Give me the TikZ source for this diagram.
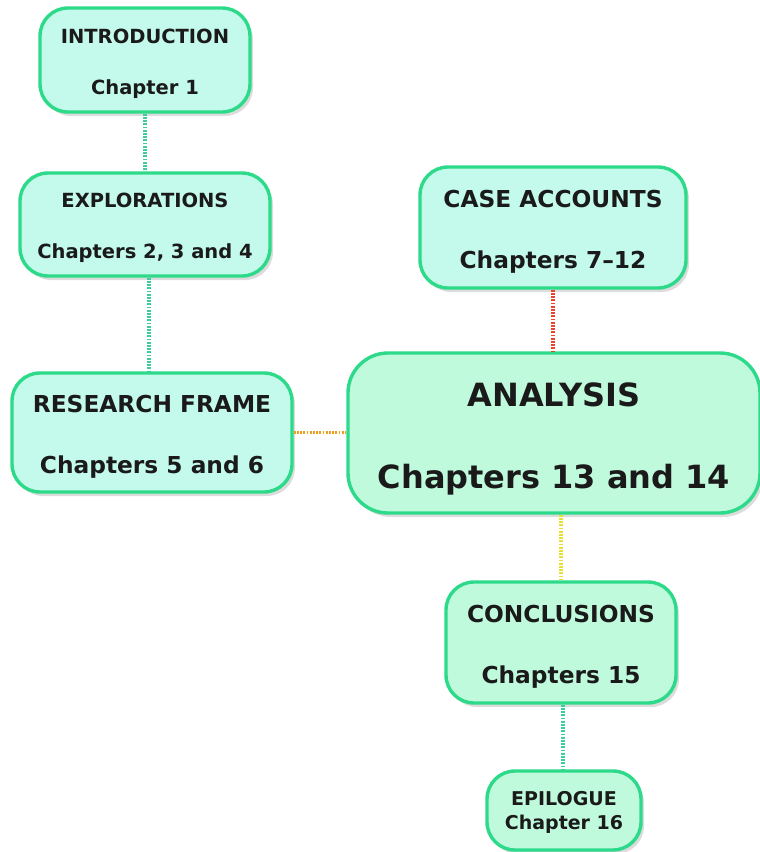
\documentclass[tikz,border=0pt]{standalone}
\usepackage{fontspec}
\setmainfont{DejaVu Sans}
\usetikzlibrary{shadows}
\definecolor{bordergreen}{HTML}{2CDA8A}
\definecolor{fillcyan}{HTML}{C4FAEB}
\definecolor{fillmint}{HTML}{C0FADC}
\definecolor{dotteal}{HTML}{3ECBA0}
\definecolor{dotred}{HTML}{E8432E}
\definecolor{dotorange}{HTML}{F0A020}
\definecolor{dotyellow}{HTML}{E6E030}
\definecolor{inkdark}{HTML}{1A1A1A}
\tikzset{
  chapbox/.style={draw=bordergreen, line width=3.4pt, fill=fillcyan, text=inkdark,
    rounded corners=28pt, align=center, inner sep=0pt,
    drop shadow={opacity=0.28, shadow xshift=3pt, shadow yshift=-4pt}},
  mintbox/.style={chapbox, fill=fillmint},
  smallfont/.style={font=\fontsize{19.5}{51}\selectfont\bfseries},
  midfont/.style={font=\fontsize{23.3}{61}\selectfont\bfseries},
  bigfont/.style={font=\fontsize{32}{82}\selectfont\bfseries},
  epifont/.style={font=\fontsize{19}{24}\selectfont\bfseries},
  link/.style={line width=3.4pt, dash pattern=on 1.8pt off 1.4pt}
}
\newcommand{\topstrut}{\rule{0pt}{1.12em}}
\begin{document}
\begin{tikzpicture}[x=1pt,y=-1pt]
\useasboundingbox (0,0) rectangle (760,852);
% boxes
\node[chapbox, smallfont, minimum width=210, minimum height=104] (intro) at (145,60)
  {\topstrut INTRODUCTION\\Chapter 1};
\node[chapbox, smallfont, minimum width=250, minimum height=103] (expl) at (145,224.5)
  {\topstrut EXPLORATIONS\\Chapters 2, 3 and 4};
\node[chapbox, midfont, minimum width=280, minimum height=119] (rf) at (152,432.5)
  {\topstrut RESEARCH FRAME\\Chapters 5 and 6};
\node[chapbox, midfont, minimum width=266, minimum height=121] (case) at (553,227.5)
  {\topstrut CASE ACCOUNTS\\Chapters 7--12};
\node[mintbox, bigfont, minimum width=412, minimum height=160, rounded corners=40pt] (ana) at (554,433)
  {\topstrut ANALYSIS\\Chapters 13 and 14};
\node[mintbox, midfont, minimum width=230, minimum height=121] (concl) at (561,642.5)
  {\topstrut CONCLUSIONS\\Chapters 15};
\node[mintbox, epifont, minimum width=154, minimum height=79, rounded corners=28pt] (epi) at (564,810.5)
  {\rule{0pt}{0.9em}EPILOGUE\\Chapter 16};
% connectors
\draw[link, dotteal] (intro.south) -- (expl.north);
\draw[link, dotteal] ([xshift=4pt]expl.south) -- ([xshift=4pt]expl.south |- rf.north);
\draw[link, dotorange] (rf.east) -- (rf.east -| ana.west);
\draw[link, dotred] (case.south) -- (case.south |- ana.north);
\draw[link, dotyellow] (concl.north |- ana.south) -- (concl.north);
\draw[link, dotteal] ([xshift=2pt]concl.south) -- ([xshift=2pt]concl.south |- epi.north);
\end{tikzpicture}
\end{document}
